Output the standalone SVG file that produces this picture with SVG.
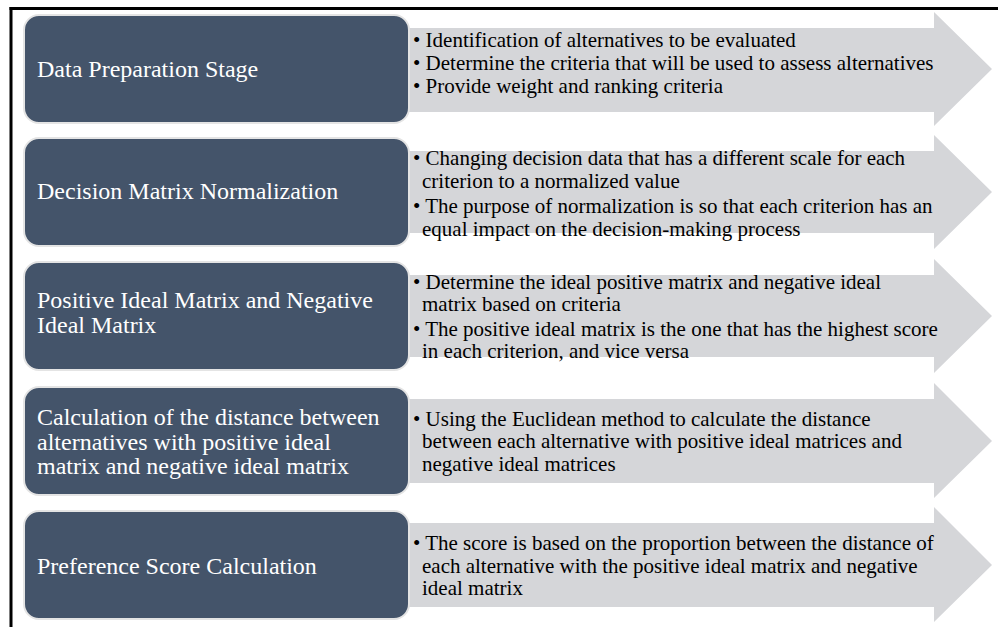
<svg xmlns="http://www.w3.org/2000/svg" width="998" height="627" viewBox="0 0 998 627">
  <style>
    .arrow { fill: #D5D6D9; }
    .card { fill: #44546A; stroke: #E4E4E4; stroke-width: 2; }
    .ct { font-family: "Liberation Serif", "Times New Roman", serif; font-size: 24px; fill: #FFFFFF; }
    .bt { font-family: "Liberation Serif", "Times New Roman", serif; font-size: 21px; fill: #000000; }
    .frame { stroke: #000000; stroke-width: 3; fill: none; }
  </style>
  <rect x="0" y="0" width="998" height="627" fill="#FFFFFF"/>
  <g id="frame">
    <line class="frame" x1="9.5" y1="8.5" x2="998" y2="8.5"/>
    <line class="frame" x1="11" y1="7" x2="11" y2="627"/>
  </g>
  <g id="connectors">
    <polygon class="arrow" points="400,28 934,28 934,12 992,69 934,126 934,112 400,112"/>
    <polygon class="arrow" points="400,151 934,151 934,135 992,192 934,249 934,233 400,233"/>
    <polygon class="arrow" points="400,275 934,275 934,259 992,316 934,373 934,357 400,357"/>
    <polygon class="arrow" points="400,399 934,399 934,383 992,441 934,498 934,483 400,483"/>
    <polygon class="arrow" points="400,523 934,523 934,507 992,565 934,622 934,607 400,607"/>
  </g>
  <g id="node1">
    <rect class="card" x="24" y="15" width="385" height="108" rx="15"/>
    <text class="ct" x="37" y="77">Data Preparation Stage</text>
    <text class="bt" x="413" y="47">• Identification of alternatives to be evaluated</text>
    <text class="bt" x="413" y="70">• Determine the criteria that will be used to assess alternatives</text>
    <text class="bt" x="413" y="93">• Provide weight and ranking criteria</text>
  </g>
  <g id="node2">
    <rect class="card" x="24" y="138" width="385" height="108" rx="15"/>
    <text class="ct" x="37" y="199">Decision Matrix Normalization</text>
    <text class="bt" x="413" y="165">• Changing decision data that has a different scale for each</text>
    <text class="bt" x="422" y="188">criterion to a normalized value</text>
    <text class="bt" x="413" y="213">• The purpose of normalization is so that each criterion has an</text>
    <text class="bt" x="422" y="236">equal impact on the decision-making process</text>
  </g>
  <g id="node3">
    <rect class="card" x="24" y="262" width="385" height="108" rx="15"/>
    <text class="ct" x="37" y="308">Positive Ideal Matrix and Negative</text>
    <text class="ct" x="37" y="333">Ideal Matrix</text>
    <text class="bt" x="413" y="289">• Determine the ideal positive matrix and negative ideal</text>
    <text class="bt" x="422" y="311">matrix based on criteria</text>
    <text class="bt" x="413" y="336">• The positive ideal matrix is the one that has the highest score</text>
    <text class="bt" x="422" y="358">in each criterion, and vice versa</text>
  </g>
  <g id="node4">
    <rect class="card" x="24" y="387" width="385" height="108" rx="15"/>
    <text class="ct" x="37" y="425">Calculation of the distance between</text>
    <text class="ct" x="37" y="450">alternatives with positive ideal</text>
    <text class="ct" x="37" y="474">matrix and negative ideal matrix</text>
    <text class="bt" x="413" y="426">• Using the Euclidean method to calculate the distance</text>
    <text class="bt" x="422" y="448">between each alternative with positive ideal matrices and</text>
    <text class="bt" x="422" y="471">negative ideal matrices</text>
  </g>
  <g id="node5">
    <rect class="card" x="24" y="511" width="385" height="108" rx="15"/>
    <text class="ct" x="37" y="574">Preference Score Calculation</text>
    <text class="bt" x="413" y="550">• The score is based on the proportion between the distance of</text>
    <text class="bt" x="422" y="573">each alternative with the positive ideal matrix and negative</text>
    <text class="bt" x="422" y="595">ideal matrix</text>
  </g>
</svg>
